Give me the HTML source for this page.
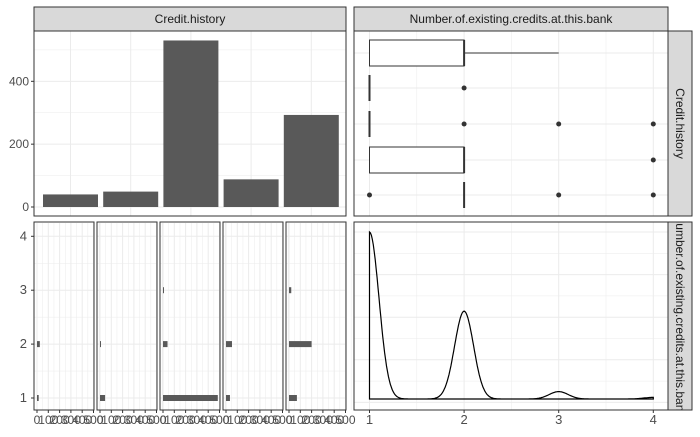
<!DOCTYPE html>
<html><head><meta charset="utf-8"><style>
body{margin:0;background:#fff}
svg text{font-family:"Liberation Sans",sans-serif}
</style></head><body>
<svg id="c" width="700" height="432" xmlns="http://www.w3.org/2000/svg">
<defs><clipPath id="clipR"><rect x="668" y="222" width="24" height="188"/></clipPath></defs>
</svg>
<script>
const barCats=["A30","A31","A32","A33","A34"];
const barCounts=[40,49,530,88,293];
const yTicksTop=[0,200,400];
const creditVals=[1,2,3,4];
const creditCounts=[633,333,28,6];
const facetCounts1=[15,45,485,35,70];
const facetCounts2=[25,4,40,53,200];
const facetCounts3=[0,0,3,0,20];
const facetCounts4=[0,0,0,0,0];
const facetTicks=["0","100","200","300","400","500"];
const boxLo=[1,null,null,1,null];
const boxHi=[2,null,null,2,null];
const boxMed=[2,1,1,2,2];
const whiskHi=[3,null,null,null,null];
const outliers=[[],[2],[2,3,4],[4],[1,3,4]];

const S=document.getElementById('c');const NS="http://www.w3.org/2000/svg";
function el(t,a,name,p){const e=document.createElementNS(NS,t);for(const k in a)e.setAttribute(k,a[k]);


(p||S).appendChild(e);return e;}
function txt(x,y,s,name,o,p){const t=el('text',Object.assign({x:x,y:y,'font-size':12,fill:'#4d4d4d'},o||{}),name,p);t.textContent=s;return t;}
const G='#ebebeb';
function grid(x1,y1,x2,y2,w,name){el('line',{x1,y1,x2,y2,stroke:G,'stroke-width':w},name);}
function strip(x,y,w,h,label,vert,name,clip){el('rect',{x,y,width:w,height:h,fill:'#d9d9d9',stroke:'#333','stroke-width':1},name);
 if(!vert)txt(x+w/2,y+h/2+4,label,name+'-label',{'text-anchor':'middle',fill:'#1a1a1a'});
 else{const g=el('g',clip?{'clip-path':'url(#clipR)'}:{},name+'-group');
  txt(0,0,label,name+'-label',{'text-anchor':'middle',fill:'#1a1a1a',transform:`translate(${x+w/2-4},${y+h/2}) rotate(90)`},g);}}
function border(x,y,w,h,name){el('rect',{x,y,width:w,height:h,fill:'none',stroke:'#333','stroke-width':1},name);}

// top-left bar chart
const TL={x:34,y:31,w:312,h:185};
const yTop=v=>207-v*0.3142;
strip(34,7,312,24,"Credit.history",false,'strip-credit-history');
[100,300,500].forEach(v=>grid(TL.x,yTop(v),TL.x+TL.w,yTop(v),0.5,'minor-grid'));
yTicksTop.forEach(v=>{grid(TL.x,yTop(v),TL.x+TL.w,yTop(v),1,'major-grid');
 el('line',{x1:31,y1:yTop(v),x2:34,y2:yTop(v),stroke:'#333'},'y-tick');
 txt(29,yTop(v)+4,String(v),'y-tick-label',{'text-anchor':'end'});});
const bx=i=>43+i*60.2;
barCats.forEach((c,i)=>grid(bx(i)+27.5,TL.y,bx(i)+27.5,TL.y+TL.h,1,'major-grid'));
barCats.forEach((c,i)=>{el('rect',{x:bx(i),y:yTop(barCounts[i]),width:55,height:yTop(0)-yTop(barCounts[i]),fill:'#595959'},'bar-'+c);});
border(TL.x,TL.y,TL.w,TL.h,'panel-top-left');

// top-right boxplots
const TR={x:354,y:31,w:314,h:185};
const xC=v=>369.5+(v-1)*94.6;
const rowY=[53,88,124,160,195];
strip(354,7,314,24,"Number.of.existing.credits.at.this.bank",false,'strip-existing-credits');
strip(668,31,24,185,"Credit.history",true,'strip-credit-history-right');
[1.5,2.5,3.5].forEach(v=>grid(xC(v),TR.y,xC(v),TR.y+TR.h,0.5,'minor-grid'));
creditVals.forEach(v=>grid(xC(v),TR.y,xC(v),TR.y+TR.h,1,'major-grid'));
rowY.forEach(y=>grid(TR.x,y,TR.x+TR.w,y,1,'major-grid'));
rowY.forEach((y,i)=>{
 if(boxLo[i]!=null){el('rect',{x:xC(boxLo[i]),y:y-13,width:xC(boxHi[i])-xC(boxLo[i]),height:26,fill:'#fff',stroke:'#333'},'box-'+barCats[i]);}
 el('line',{x1:xC(boxMed[i]),y1:y-13,x2:xC(boxMed[i]),y2:y+13,stroke:'#333','stroke-width':2},'median-'+barCats[i]);
 if(whiskHi[i]!=null)el('line',{x1:xC(boxHi[i]),y1:y,x2:xC(whiskHi[i]),y2:y,stroke:'#333'},'whisker-'+barCats[i]);
 outliers[i].forEach(o=>el('circle',{cx:xC(o),cy:y,r:2.5,fill:'#333'},'outlier'));
});
border(TR.x,TR.y,TR.w,TR.h,'panel-top-right');

// bottom-left faceted bars
const yB=v=>398-(v-1)*53.9;
const subs=[34,97,160,223,286];const subW=60;
const fc=[facetCounts1,facetCounts2,facetCounts3,facetCounts4];
const k=0.113;
subs.forEach((sx,si)=>{
 [1.5,2.5,3.5].forEach(v=>grid(sx,yB(v),sx+subW,yB(v),0.5,'minor-grid'));
 creditVals.forEach(v=>grid(sx,yB(v),sx+subW,yB(v),1,'major-grid'));
 for(let t=0;t<=5;t++){grid(sx+3+t*100*k,223,sx+3+t*100*k,410,1,'major-grid');grid(sx+3+(t+0.5)*100*k,223,sx+3+(t+0.5)*100*k,410,0.5,'minor-grid');}
 creditVals.forEach((v,vi)=>{const n=fc[vi][si];if(n>0)el('rect',{x:sx+3,y:yB(v)-3,width:Math.max(1,n*k),height:6,fill:'#595959'},'facet-bar');});
 border(sx,222,subW,188,'facet-panel');
 facetTicks.forEach((t,ti)=>{const x=sx+3+ti*100*k;el('line',{x1:x,y1:410,x2:x,y2:413,stroke:'#333'},'x-tick');
  txt(x,424,t,'x-tick-label',{'text-anchor':'middle'});});
});
creditVals.forEach(v=>{el('line',{x1:31,y1:yB(v),x2:34,y2:yB(v),stroke:'#333'},'y-tick');txt(27,yB(v)+4,String(v),'y-tick-label',{'text-anchor':'end','font-size':13});});

// bottom-right density
const BR={x:354,y:222,w:314,h:188};
strip(668,222,24,188,"Number.of.existing.credits.at.this.bank",true,'strip-existing-credits-right',true);
for(let i=0;i<9;i++){const y=232+i*21.3;grid(BR.x,y,BR.x+BR.w,y,i%2?0.5:1,'grid');}
[1.5,2.5,3.5].forEach(v=>grid(xC(v),BR.y,xC(v),BR.y+BR.h,0.5,'minor-grid'));
creditVals.forEach(v=>grid(xC(v),BR.y,xC(v),BR.y+BR.h,1,'major-grid'));
const sig=0.1;
function dens(x){let s=0;creditVals.forEach((v,i)=>s+=creditCounts[i]*Math.exp(-0.5*((x-v)/sig)**2));return s;}
const dmax=dens(1);
const yD=d=>399-d/dmax*167;
let pts=[];for(let x=1;x<=4.0001;x+=0.01)pts.push(xC(x).toFixed(1)+','+yD(dens(x)).toFixed(1));
el('polygon',{points:xC(1)+','+yD(0)+' '+pts.join(' ')+' '+xC(4)+','+yD(0),fill:'none',stroke:'#000','stroke-width':1.2},'density-curve');
border(BR.x,BR.y,BR.w,BR.h,'panel-bottom-right');
creditVals.forEach(v=>{el('line',{x1:xC(v),y1:410,x2:xC(v),y2:413,stroke:'#333'},'x-tick');txt(xC(v),424,String(v),'x-tick-label',{'text-anchor':'middle','font-size':13});});
</script>
</body></html>
